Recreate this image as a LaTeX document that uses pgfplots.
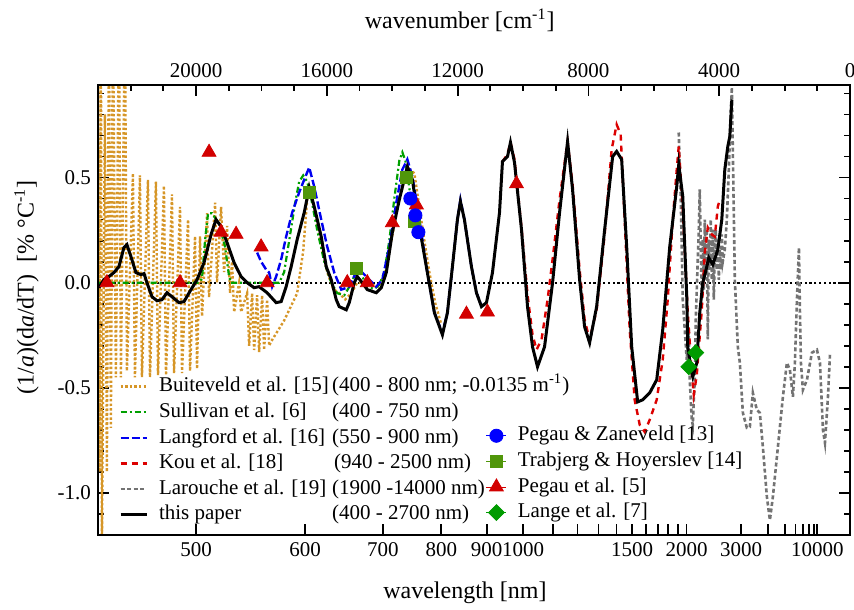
\documentclass[border=0pt]{standalone}
\usepackage{fontspec}
\setmainfont{Liberation Serif}
\usepackage{pgfplots}
\pgfplotsset{compat=1.18}
\definecolor{cBui}{RGB}{214,150,40}
\definecolor{cSul}{RGB}{0,160,0}
\definecolor{cLan}{RGB}{0,0,240}
\definecolor{cKou}{RGB}{220,0,0}
\definecolor{cLar}{RGB}{115,115,115}
\definecolor{cTra}{RGB}{80,150,10}
\definecolor{cPeg}{RGB}{210,0,0}
\definecolor{cLng}{RGB}{0,155,0}
\definecolor{cPZ}{RGB}{0,0,255}
\begin{document}
\begin{tikzpicture}
\pgfplotsset{
  common/.style={
    scale only axis, width=376pt, height=225pt,
    xmin=0, xmax=23000, ymin=-1.2, ymax=0.94,
    x dir=reverse, scaled ticks=false,
    axis line style={line width=1.3pt},
    every tick/.style={line width=0.9pt, black},
    major tick length=5.5pt, minor tick length=3pt,
    tick align=inside,
    ticklabel style={font=\fontsize{10.5}{12}\selectfont},
    label style={font=\fontsize{12}{14}\selectfont},
    /pgf/number format/assume math mode=true,
  }
}
\begin{axis}[common,
  xtick pos=left, ytick pos=both,
  xtick={20000,16666.67,14285.71,12500,11111.11,10000,9090.91,8333.33,7692.31,7142.86,6666.67,6250,5882.35,5555.56,5263.16,5000,3333.33,2500,2000,1666.67,1428.57,1250,1111.11,1000},
  xticklabels={500,600,700,800,900,1000,,,,,1500,,,,,2000,3000,,,,,,,10000},
  ytick={-1,-0.5,0,0.5}, yticklabels={-1.0,-0.5,0.0,0.5},
  minor ytick={-1.2,-1.1,-0.9,-0.8,-0.7,-0.6,-0.4,-0.3,-0.2,-0.1,0.1,0.2,0.3,0.4,0.6,0.7,0.8,0.9},
  xlabel={wavelength [nm]},
  ylabel={(1/\textit{a})(d\textit{a}/dT)\ \ [\% °C\textsuperscript{-1}]},
  xlabel style={at={(axis description cs:0.488,-0.129)}, anchor=center},
  ylabel style={at={(axis description cs:-0.095,0.55)}, anchor=center},
  legend image code/.code={\draw[#1] (0pt,0pt) -- (13pt,0pt);},
  legend cell align=left,
  legend style={draw=none, fill=none, at={(axis description cs:0.028,0.358)}, anchor=north west,
    inner sep=0pt, outer sep=0pt, font=\fontsize{10.5}{12}\selectfont, row sep=0pt, column sep=5pt,
    nodes={inner sep=0.5pt, text height=8.5pt, text depth=3.3pt}},
]
\coordinate (SW) at (rel axis cs:0,0);
\coordinate (NE) at (rel axis cs:1,1);
% zero line
\addplot[black, line width=1.1pt, dash pattern=on 1.1pt off 1.3pt, forget plot] coordinates {(0,0) (23000,0)};
% Buiteveld
\addplot[cBui, line width=1.2pt, dash pattern=on 1.2pt off 1.1pt, forget plot] coordinates {
(23003,1.3) (22957,-0.9) (22911,1.3) (22881,-1.3) (22789,0.80) (22727,-0.90) (22666,1.3) (22605,-0.69) (22544,1.3) (22452,-0.45) (22360,1.3) (22299,-0.45) (22176,1.3) (22115,-0.42)
(21931,0.52) (21870,-0.45) (21717,0.51) (21655,-0.45) (21472,0.49) (21410,-0.45) (21227,0.48) (21165,-0.44) (20982,0.46) (20920,-0.44) (20737,0.42) (20675,-0.43) (20491,0.36) (20430,-0.43) (20246,0.30) (20185,-0.42) (20032,0.22) (19971,-0.41) (19879,0.22) (19818,-0.16) (19664,0.33) (19603,-0.07) (19419,0.38) (19358,0.0) (19236,0.36) (19144,0.05) (19052,0.27) (18960,-0.05) (18899,0.10) (18837,-0.14) (18684,0.0) (18623,-0.14)
(18439,-0.05) (18378,-0.30) (18286,-0.05) (18225,-0.32) (18133,-0.06) (18072,-0.33) (17980,-0.06) (17919,-0.32) (17827,-0.08) (17765,-0.30) (17704,-0.28) (17306,-0.18) (16908,-0.05) (16724,0.15) (16601,0.40) (16510,0.43) (16356,0.33) (16173,0.18) (15989,0.05) (15805,-0.03) (15621,-0.05) (15438,-0.08) (15254,-0.05) (15070,0.0) (14856,0.0) (14641,-0.01) (14396,-0.02) (14212,0.05) (14029,0.20) (13845,0.35) (13661,0.47) (13477,0.54) (13324,0.52) (13171,0.36) (13018,0.20) (12865,0.05) (12681,-0.10) (12497,-0.20)};
% Larouche
\addplot[cLar, line width=1.3pt, dash pattern=on 2pt off 1.3pt, forget plot] coordinates {
(5238,0.714) (5176,0.395) (5115,-0.081) (5054,-0.224) (4993,-0.367) (4931,-0.224) (4901,-0.462) (4840,-0.652) (4809,-0.676) (4748,-0.462) (4717,-0.176) (4656,0.110) (4625,0.252) (4595,0.443) (4564,0.157) (4533,-0.081) (4503,0.205) (4472,-0.033) (4441,0.300) (4411,0.014) (4380,0.252) (4349,-0.27) (4319,0.205) (4288,0.062) (4258,0.300) (4227,0.014) (4196,0.252) (4166,-0.081) (4135,0.157) (4104,0.252) (4074,0.062) (4043,0.205) (4013,0.014) (3982,0.157) (3951,0.062) (3921,0.229) (3890,0.100) (3829,0.157) (3767,0.300) (3706,0.538) (3645,0.824) (3614,0.929) (3522,0.014) (3431,-0.305) (3369,-0.381) (3277,-0.619) (3155,-0.690) (3063,-0.686) (2971,-0.524) (2849,-0.605) (2757,-0.619) (2665,-0.781) (2542,-1.019) (2450,-1.129) (2359,-1.019) (2205,-0.781) (2052,-0.543) (1930,-0.381) (1838,-0.414) (1746,-0.543) (1685,-0.381) (1623,-0.081) (1562,0.167) (1532,-0.129) (1501,-0.381) (1440,-0.510) (1317,-0.462) (1164,-0.333) (1011,-0.319) (919,-0.381) (827,-0.700) (766,-0.762) (674,-0.543) (613,-0.343)};
% Sullivan
\addplot[cSul, line width=1.1pt, dash pattern=on 3pt off 1.5pt on 1pt off 1.5pt, forget plot] coordinates {
(23100,0) (21441,0) (19910,0) (19818,0.02) (19726,0.2) (19634,0.33) (19511,0.33) (19297,0.28) (19113,0.17) (18991,0.03) (18930,0.0) (17459,0.0) (17306,0.05) (17153,0.2) (16969,0.38) (16847,0.48) (16724,0.51) (16601,0.48) (16479,0.40) (16295,0.25) (16081,0.10) (15866,0.0) (15683,-0.05) (15468,-0.06) (15315,-0.02) (15162,0.03) (15070,0.07) (14947,0.04) (14764,-0.02) (14549,-0.03) (14396,-0.01) (14243,0.05) (14090,0.2) (13937,0.4) (13784,0.58) (13691,0.62) (13600,0.58) (13477,0.45) (13385,0.35) (13324,0.30)};
% Langford
\addplot[cLan, line width=1.2pt, dash pattern=on 4pt off 1.5pt, forget plot] coordinates {
(18133,0.143) (18011,0.100) (17857,0.062) (17765,0.048) (17674,-0.019) (17551,0.029) (17398,0.110) (17245,0.219) (17061,0.333) (16847,0.429) (16693,0.490) (16540,0.548) (16387,0.457) (16173,0.300) (15989,0.171) (15774,0.048) (15560,-0.033) (15315,-0.02) (15162,0.03) (15009,0.062) (14794,0.029) (14488,-0.019) (14304,0.014) (14090,0.171) (13876,0.381) (13691,0.538) (13538,0.586) (13385,0.505) (13171,0.300) (12926,0.048) (12711,-0.143) (12466,-0.240) (12313,-0.143) (12160,0.076) (12007,0.300) (11915,0.395) (11793,0.300) (11578,0.076) (11425,-0.048) (11272,-0.110) (11119,-0.100)};
% Kou
\addplot[cKou, line width=1.2pt, dash pattern=on 3pt off 2.5pt, forget plot] coordinates {
(10629,0.576) (10475,0.610) (10384,0.667) (10261,0.586) (10047,0.262) (9863,-0.057) (9710,-0.248) (9587,-0.319) (9434,-0.271) (9250,-0.081) (9097,0.110) (8883,0.395) (8638,0.671) (8485,0.467) (8270,0.062) (8117,-0.176) (7964,-0.271) (7749,-0.129) (7504,0.229) (7290,0.633) (7137,0.752) (7014,0.705) (6892,0.300) (6738,-0.224) (6586,-0.557) (6432,-0.676) (6279,-0.710) (6126,-0.652) (5912,-0.557) (5728,-0.367) (5575,-0.081) (5421,0.300) (5299,0.538) (5238,0.648) (5115,0.348) (4962,-0.143) (4840,-0.429) (4778,-0.533) (4686,-0.438) (4533,-0.129) (4441,0.143) (4349,0.262) (4227,0.229) (4135,0.219) (4043,0.362) (3982,0.395)};
% this paper
\addplot[black, line width=1.5pt, forget plot] coordinates {
(22972,-0.024) (22820,0.014) (22666,0.029) (22513,0.048) (22360,0.076) (22207,0.167) (22115,0.181) (21992,0.124) (21840,0.048) (21687,0.038) (21594,0.043) (21502,0.0) (21349,-0.067) (21196,-0.086) (21043,-0.081) (20890,-0.048) (20737,-0.067) (20522,-0.095) (20369,-0.090) (20155,-0.033) (19971,0.014) (19757,0.095) (19542,0.229) (19389,0.300) (19236,0.267) (19052,0.190) (18837,0.095) (18623,0.029) (18439,0.0) (18225,-0.024) (18072,-0.019) (17827,-0.048) (17551,-0.095) (17398,-0.090) (17245,-0.019) (17092,0.076) (16908,0.205) (16693,0.333) (16540,0.452) (16387,0.362) (16173,0.219) (16019,0.076) (15866,0.014) (15713,-0.081) (15621,-0.114) (15407,-0.129) (15315,-0.095) (15162,0.0) (15070,0.029) (14917,0.0) (14764,-0.033) (14488,-0.048) (14335,-0.024) (14182,0.048) (13998,0.238) (13784,0.395) (13538,0.552) (13385,0.490) (13171,0.267) (12926,0.048) (12711,-0.143) (12466,-0.248) (12313,-0.143) (12160,0.076) (12007,0.300) (11915,0.386) (11793,0.300) (11578,0.076) (11425,-0.048) (11272,-0.114) (11119,-0.095) (10935,0.048) (10720,0.333) (10629,0.576) (10475,0.600) (10384,0.667) (10261,0.571) (10047,0.252) (9863,-0.114) (9710,-0.305) (9557,-0.400) (9342,-0.305) (9097,0.0) (8883,0.333) (8638,0.671) (8485,0.443) (8270,0.014) (8117,-0.210) (7964,-0.286) (7749,-0.114) (7504,0.252) (7259,0.600) (7137,0.624) (6984,0.586) (6830,0.171) (6677,-0.305) (6494,-0.567) (6340,-0.557) (6126,-0.524) (5912,-0.462) (5728,-0.224) (5513,0.171) (5299,0.457) (5238,0.562) (5115,0.410) (4993,-0.067) (4962,-0.305) (4840,-0.429) (4809,-0.448) (4686,-0.381) (4595,-0.143) (4503,0.0) (4380,0.076) (4319,0.119) (4196,0.086) (4043,0.157) (3921,0.300) (3829,0.538) (3737,0.648) (3676,0.695) (3614,0.871)};
% markers
\addplot[only marks, mark=triangle*, mark size=4pt, color=cPeg, forget plot] coordinates {
(22727,0.0) (20491,0.0) (19603,0.62) (19236,0.24) (18776,0.23) (18011,0.17) (17827,0.0) (15376,0.0) (14764,0.0) (13998,0.285) (13262,0.37) (11731,-0.15) (11088,-0.14) (10200,0.47)};
\addplot[only marks, mark=square*, mark size=3pt, color=cTra, forget plot] coordinates {
(16540,0.43) (15101,0.07) (13569,0.50) (13324,0.29)};
\addplot[only marks, mark=*, mark size=3.3pt, color=cPZ, forget plot] coordinates {
(13446,0.40) (13293,0.32) (13201,0.24)};
\addplot[only marks, mark=square*, mark size=2.8pt, mark options={rotate=45}, color=cLng, forget plot] coordinates {
(4717,-0.333) (4931,-0.40)};
% legend lines
\addlegendimage{cBui, line width=1.2pt, dash pattern=on 1.2pt off 1.1pt}
\addlegendentry{\makebox[86.5pt][l]{Buiteveld et al. [15]}(400 - 800 nm; -0.0135 m\textsuperscript{-1})}
\addlegendimage{cSul, line width=1.1pt, dash pattern=on 3pt off 1.5pt on 1pt off 1.5pt}
\addlegendentry{\makebox[86.5pt][l]{Sullivan et al. [6]}(400 - 750 nm)}
\addlegendimage{cLan, line width=1.2pt, dash pattern=on 4pt off 1.5pt}
\addlegendentry{\makebox[86.5pt][l]{Langford et al. [16]}(550 - 900 nm)}
\addlegendimage{cKou, line width=1.2pt, dash pattern=on 3pt off 2.5pt}
\addlegendentry{\makebox[87.5pt][l]{Kou et al. [18]}(940 - 2500 nm)}
\addlegendimage{cLar, line width=1.3pt, dash pattern=on 2pt off 1.3pt}
\addlegendentry{\makebox[86.5pt][l]{Larouche et al. [19]}(1900 -14000 nm)}
\addlegendimage{black, line width=1.5pt}
\addlegendentry{\makebox[86.5pt][l]{this paper}(400 - 2700 nm)}
\end{axis}
\begin{axis}[common,
  xtick pos=right, xticklabel pos=right,
  xtick={0,4000,8000,12000,16000,20000},
  xticklabels={0,4000,8000,12000,16000,20000},
  minor xtick={1000,2000,3000,5000,6000,7000,9000,10000,11000,13000,14000,15000,17000,18000,19000,21000,22000},
  ytick=\empty,
  xlabel={wavenumber [cm\textsuperscript{-1}]},
  xlabel style={at={(axis description cs:0.481,1.144)}, anchor=center},
  legend image code/.code={\path (0pt,0pt) -- (10pt,0pt); \draw[#1] plot coordinates {(5pt,0pt)};},
  legend cell align=left,
  legend style={draw=none, fill=none, at={(axis description cs:0.516,0.249)}, anchor=north west,
    inner sep=0pt, outer sep=0pt, font=\fontsize{10.5}{12}\selectfont, row sep=0pt, column sep=5pt,
    nodes={inner sep=0.5pt, text height=8.5pt, text depth=3.3pt}},
]
\addlegendimage{only marks, mark=*, mark size=3.3pt, color=cPZ}
\addlegendentry{Pegau \& Zaneveld [13]}
\addlegendimage{only marks, mark=square*, mark size=3pt, color=cTra}
\addlegendentry{Trabjerg \& Hoyerslev [14]}
\addlegendimage{only marks, mark=triangle*, mark size=4pt, color=cPeg}
\addlegendentry{Pegau et al. [5]}
\addlegendimage{only marks, mark=square*, mark size=2.8pt, mark options={rotate=45}, color=cLng}
\addlegendentry{Lange et al. [7]}
\end{axis}
\pgfresetboundingbox
\path[use as bounding box] ([shift={(-49pt,-37pt)}]SW) rectangle ([shift={(2pt,42.5pt)}]NE);
\end{tikzpicture}
\end{document}
